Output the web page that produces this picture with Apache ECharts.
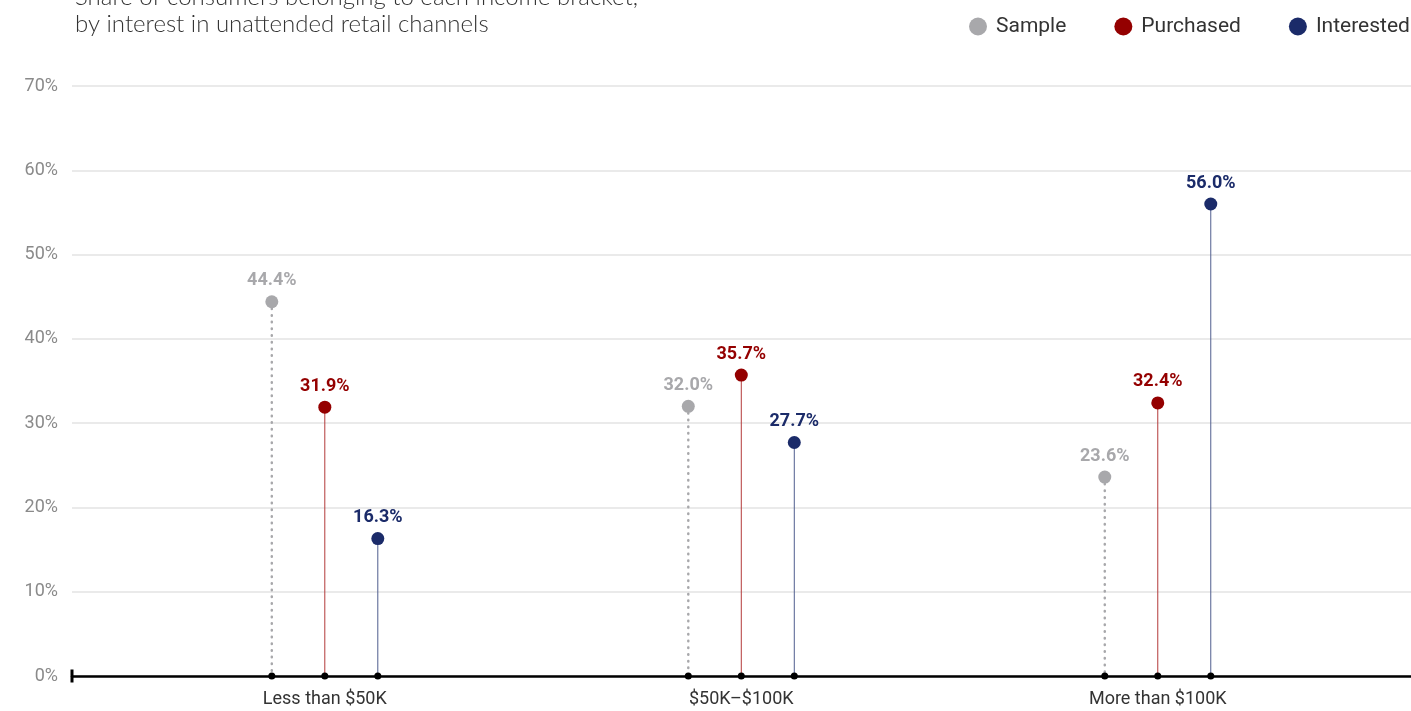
<!DOCTYPE html>
<html>
<head>
<meta charset="utf-8">
<script src="https://cdn.jsdelivr.net/npm/echarts@6/dist/echarts.min.js"></script>
<style>
  html, body { margin: 0; padding: 0; background: #fff; }
  #box { width: 1411px; height: 711px; }
</style>
</head>
<body>
<div id="box"></div>
<script>
// 数据
var categories = ['Less than $50K', '$50K\u2013$100K', 'More than $100K'];
var sample = [44.4, 32.0, 23.6];
var purchased = [31.9, 35.7, 32.4];
var interested = [16.3, 27.7, 56.0];
var yTicks = [0, 10, 20, 30, 40, 50, 60, 70];

var myChart = echarts.init(document.getElementById('box'));

// 每组内的偏移（像素）
function lollipop(offset, color, stemColor, dotted) {
    return function (params, api) {
        var top = api.coord([api.value(0), api.value(1)]);
        var base = api.coord([api.value(0), 0]);
        var x = top[0] + offset;
        var lineStyle = { stroke: stemColor, lineWidth: 1 };
        if (dotted) {
            lineStyle = { stroke: stemColor, lineWidth: 2.5, lineDash: [0.5, 6.2], lineCap: 'round' };
        }
        return {
            type: 'group',
            children: [
                { type: 'line', shape: { x1: x, y1: top[1], x2: x, y2: base[1] }, style: lineStyle },
                { type: 'circle', shape: { cx: x, cy: base[1], r: 3.5 }, style: { fill: '#000' }, z2: 5 },
                { type: 'circle', shape: { cx: x, cy: top[1], r: 6.5 }, style: { fill: color }, z2: 6 },
                {
                    type: 'text', x: x, y: top[1] - 21,
                    style: {
                        text: api.value(1).toFixed(1) + '%',
                        fill: color,
                        font: 'bold 18px "Liberation Sans Narrow", "Roboto", sans-serif',
                        align: 'center', verticalAlign: 'middle'
                    }
                }
            ]
        };
    };
}

function toData(arr) {
    return arr.map(function (v, i) { return [i, v]; });
}

var option = {
    backgroundColor: '#fff',
    animation: false,
    title: {
        text: 'Share of consumers belonging to each income bracket,\nby interest in unattended retail channels',
        left: 70,
        top: -21,
        textStyle: {
            fontFamily: 'Lato',
            fontWeight: 300,
            fontSize: 24,
            lineHeight: 27,
            color: '#333'
        }
    },
    legend: {
        left: 964,
        top: 11,
        width: 700,
        itemWidth: 18,
        itemHeight: 18,
        itemGap: 48,
        icon: 'circle',
        textStyle: { fontFamily: 'Roboto', fontSize: 21, color: '#333', padding: [0, 0, 0, 4] },
        data: ['Sample', 'Purchased', 'Interested']
    },
    grid: { left: 72, right: 0, top: 86, bottom: 35 },
    xAxis: {
        type: 'value',
        min: -0.607,
        max: 2.608,
        splitLine: { show: false },
        axisTick: { show: false },
        axisLine: {
            show: true,
            lineStyle: { color: '#000', width: 2.5 },
            symbol: ['rect', 'none'],
            symbolSize: [13, 3]
        },
        axisLabel: {
            customValues: [0, 1, 2],
            margin: 14,
            color: '#333',
            fontFamily: '"Liberation Sans Narrow", Roboto, sans-serif',
            fontSize: 18,
            formatter: function (v) { return categories[Math.round(v)]; }
        }
    },
    yAxis: {
        type: 'value',
        min: 0,
        max: 70,
        interval: 10,
        axisLine: { show: false },
        axisTick: { show: false },
        splitLine: { lineStyle: { color: '#e3e3e3', width: 1.5 } },
        axisLabel: {
            margin: 14,
            color: '#8a8a8a',
            fontFamily: '"Liberation Sans Narrow", Roboto, sans-serif',
            fontSize: 18,
            formatter: '{value}%'
        }
    },
    series: [{
        name: 'Sample',
        type: 'custom',
        color: '#a8a8ab',
        renderItem: lollipop(-53, '#a8a8ab', '#a8a8ab', true),
        data: toData(sample)
    }, {
        name: 'Purchased',
        type: 'custom',
        color: '#940000',
        renderItem: lollipop(0, '#940000', '#b33a3a', false),
        data: toData(purchased)
    }, {
        name: 'Interested',
        type: 'custom',
        color: '#1b2b69',
        renderItem: lollipop(53, '#1b2b69', '#4f5d8e', false),
        data: toData(interested)
    }]
};

myChart.setOption(option);
</script>
</body>
</html>
